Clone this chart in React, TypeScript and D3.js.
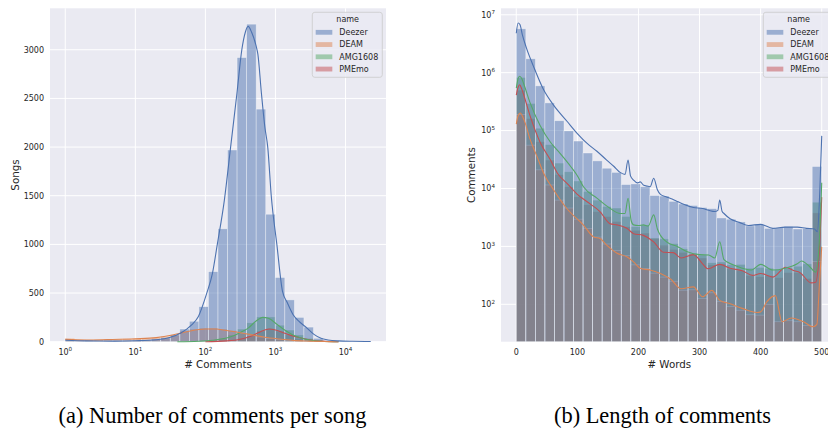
import React, { useEffect, useRef } from 'react';
import * as d3 from 'd3';

const seriesNames = ['Deezer', 'DEAM', 'AMG1608', 'PMEmo'];
const seriesColors = ['#4c72b0', '#dd8452', '#55a868', '#c44e52'];

// (a) songs per bin of log10(# comments), 32 bins over [10^0, 10^4.36]
const commentLogExtent = [0, 4.36];
const songsDeezer = [15, 6, 5, 5, 7, 9, 11, 14, 18, 28, 40, 70, 130, 210, 360, 720, 1160, 1970, 2920, 3263, 2390, 1310, 660, 430, 250, 150, 35, 12, 6, 4, 2, 2];
const songsDEAM = [35, 18, 20, 22, 25, 27, 30, 32, 35, 42, 55, 75, 110, 130, 140, 140, 130, 115, 90, 65, 48, 32, 22, 14, 8, 5, 3, 1, 0, 0, 0, 0];
const songsAMG = [0, 0, 0, 0, 0, 0, 0, 0, 0, 0, 0, 0, 1, 3, 6, 15, 35, 70, 130, 195, 255, 255, 170, 120, 70, 35, 15, 5, 2, 0, 0, 0];
const songsPMEmo = [0, 0, 0, 0, 0, 0, 0, 0, 0, 0, 0, 0, 0, 0, 1, 3, 8, 20, 40, 70, 110, 135, 110, 70, 35, 15, 5, 2, 0, 0, 0, 0];

// kde curves, [log10 comments, songs]
const kdeSongsDeezer = [[0, 15], [0.3, 8], [0.7, 6], [1.0, 10], [1.3, 20], [1.5, 45], [1.65, 90], [1.8, 170], [1.9, 260], [2.02, 500], [2.1, 700], [2.17, 1000], [2.27, 1450], [2.36, 2000], [2.45, 2550], [2.52, 3000], [2.57, 3180], [2.61, 3240], [2.66, 3180], [2.72, 3050], [2.75, 2950], [2.8, 2550], [2.85, 2200], [2.89, 2000], [2.94, 1500], [3.02, 1000], [3.1, 520], [3.17, 400], [3.25, 280], [3.35, 200], [3.45, 140], [3.55, 75], [3.65, 35], [3.75, 18], [3.9, 8], [4.1, 4], [4.36, 2]];
const kdeSongsDEAM = [[0, 24], [0.3, 18], [0.6, 22], [1.0, 30], [1.3, 42], [1.53, 68], [1.75, 105], [2.0, 130], [2.15, 130], [2.3, 115], [2.5, 92], [2.68, 68], [2.85, 45], [3.06, 27], [3.25, 14], [3.44, 7], [3.7, 2], [3.9, 0]];
const kdeSongsAMG = [[1.6, 0], [1.9, 5], [2.1, 15], [2.36, 50], [2.5, 95], [2.62, 145], [2.72, 210], [2.82, 250], [2.9, 240], [3.02, 180], [3.12, 125], [3.25, 70], [3.37, 38], [3.49, 17], [3.65, 5], [3.9, 0]];
const kdeSongsPMEmo = [[2.0, 0], [2.3, 8], [2.5, 25], [2.65, 55], [2.78, 100], [2.91, 130], [3.0, 120], [3.1, 95], [3.2, 70], [3.35, 40], [3.5, 18], [3.7, 5], [3.9, 0]];

// (b) comments per bin of # words, 32 bins over [0, 500]
const wordExtent = [0, 500];
const commentsDeezer = [5730000, 1740000, 593000, 301000, 148000, 99000, 66000, 41000, 30000, 22400, 19000, 11700, 12000, 10700, 7550, 7400, 6000, 5400, 5100, 4700, 4500, 3100, 2950, 2650, 2260, 2400, 2050, 2100, 2200, 2000, 2050, 24000];
const commentsDEAM = [190000, 56000, 21000, 11500, 6300, 4600, 2950, 2050, 1450, 1100, 850, 690, 480, 415, 345, 295, 250, 175, 178, 126, 158, 112, 91, 79, 66, 65, 100, 50, 52, 50, 43, 550];
const commentsAMG = [830000, 295000, 110000, 57500, 27500, 19500, 13500, 8900, 6300, 4900, 4600, 3300, 2200, 2350, 1400, 1350, 1120, 910, 760, 710, 525, 540, 480, 490, 420, 435, 420, 400, 435, 455, 500, 5800];
const commentsPMEmo = [500000, 162000, 64500, 31000, 17400, 10700, 7200, 5250, 4000, 3300, 2700, 2200, 1900, 1700, 1380, 1050, 890, 790, 720, 630, 480, 500, 415, 380, 316, 300, 316, 290, 355, 355, 280, 3800];

// kde curves, [# words, comments]
const kdeWordsDeezer = [[0, 4.8e6], [3, 7.2e6], [6, 6.8e6], [10, 4.5e6], [17, 2.6e6], [28, 1.3e6], [45, 5.0e5], [61, 2.75e5], [83, 1.45e5], [100, 8.9e4], [116, 6.0e4], [132, 4.4e4], [148, 3.1e4], [160, 2.4e4], [170, 1.9e4], [178, 1.75e4], [183, 3.1e4], [187, 1.65e4], [192, 1.4e4], [198, 1.25e4], [203, 1.3e4], [208, 1.15e4], [214, 1.1e4], [219, 1.07e4], [225, 1.5e4], [231, 9500], [236, 7900], [245, 7200], [255, 6600], [265, 5900], [275, 5300], [290, 4700], [305, 4500], [315, 4200], [325, 4000], [330, 4200], [333, 6300], [337, 4000], [340, 3700], [350, 3000], [365, 2600], [380, 2300], [400, 2400], [420, 2050], [440, 2150], [460, 2150], [475, 2050], [488, 2000], [493, 1800], [497, 1.0e4], [500, 8.1e4]];
const kdeWordsDEAM = [[0, 1.29e5], [3, 1.8e5], [6.5, 2.0e5], [13, 1.5e5], [23, 6.9e4], [34, 3.55e4], [45, 1.82e4], [61, 9500], [83, 4470], [110, 2340], [127, 1450], [137, 1370], [148, 1050], [165, 760], [181, 660], [192, 540], [203, 420], [219, 390], [236, 340], [253, 270], [270, 186], [290, 200], [305, 135], [320, 174], [333, 117], [350, 102], [370, 85], [394, 72], [400, 74], [410, 110], [424, 141], [435, 50], [450, 58], [470, 50], [486, 41], [492, 45], [496, 200], [500, 980]];
const kdeWordsAMG = [[0, 5.4e5], [3, 7.9e5], [5.5, 8.7e5], [9, 7.9e5], [12, 6.5e5], [23, 2.95e5], [39, 1.23e5], [56, 6.3e4], [72, 4.0e4], [89, 2.4e4], [100, 1.66e4], [110, 1.07e4], [132, 6800], [154, 4500], [170, 3700], [178, 3700], [183, 6800], [188, 2800], [192, 2350], [200, 2300], [208, 2350], [216, 2250], [225, 3500], [231, 2000], [236, 1550], [246, 1200], [265, 980], [280, 810], [300, 720], [315, 710], [325, 630], [333, 1200], [340, 590], [355, 480], [370, 420], [385, 390], [400, 490], [420, 390], [440, 420], [460, 500], [467, 560], [480, 450], [490, 360], [495, 800], [500, 1.26e4]];
const kdeWordsPMEmo = [[0, 4.1e5], [3, 5.6e5], [5.5, 6.2e5], [9, 5.2e5], [12, 4.2e5], [23, 1.74e5], [39, 6.3e4], [56, 3.1e4], [68, 1.8e4], [83, 1.23e4], [99, 8100], [116, 5900], [137, 4000], [154, 2450], [165, 2350], [181, 2050], [192, 1660], [208, 1550], [225, 1200], [241, 790], [257, 780], [270, 630], [290, 720], [305, 500], [314, 410], [333, 490], [350, 420], [370, 380], [387, 316], [400, 340], [420, 295], [441, 436], [455, 380], [464, 355], [483, 234], [490, 240], [496, 800], [500, 7100]];

const commentTicks = [1, 10, 100, 1000, 10000];
const songTicks = [0, 500, 1000, 1500, 2000, 2500, 3000];
const wordTicks = [0, 100, 200, 300, 400, 500];
const countTicks = [1e2, 1e3, 1e4, 1e5, 1e6, 1e7];

const FONT = 'DejaVu Sans, sans-serif';
const INK = '#262626';

const powLabel = (t, v) => {
  t.append('tspan').text('10');
  t.append('tspan').attr('dy', -3.6).attr('font-size', 5.6).text(Math.round(Math.log10(v)));
};

function drawPanel(svg, p) {
  const { x, y, left, right, top, bottom, edges, bars, kdes, xTicks, yTicks, xLog, yLog, xLabel, yLabel, yLabelX, legendX, caption, captionX } = p;
  const g = svg.append('g');

  g.append('rect').attr('x', left).attr('y', top).attr('width', right - left).attr('height', bottom - top).attr('fill', '#eaeaf2');

  g.selectAll('.vgrid').data(xTicks).join('line')
    .attr('x1', (d) => x(d)).attr('x2', (d) => x(d)).attr('y1', top).attr('y2', bottom)
    .attr('stroke', '#fff').attr('stroke-width', 1);
  g.selectAll('.hgrid').data(yTicks).join('line')
    .attr('x1', left).attr('x2', right).attr('y1', (d) => y(d)).attr('y2', (d) => y(d))
    .attr('stroke', '#fff').attr('stroke-width', 1);

  // first hue level ends up on top, as seaborn layers them
  [3, 2, 1, 0].forEach((k) => {
    const rows = bars[k].map((v, i) => ({ v, i })).filter((d) => d.v > 0);
    g.append('g').selectAll('rect').data(rows).join('rect')
      .attr('x', (d) => x(edges[d.i]))
      .attr('width', (d) => x(edges[d.i + 1]) - x(edges[d.i]))
      .attr('y', (d) => y(d.v))
      .attr('height', (d) => bottom - y(d.v))
      .attr('fill', seriesColors[k]).attr('fill-opacity', 0.5)
      .attr('stroke', '#fff').attr('stroke-opacity', 0.5).attr('stroke-width', 0.7);
  });

  [3, 2, 1, 0].forEach((k) => {
    const line = d3.line().x((d) => x(d[0])).y((d) => y(d[1])).curve(d3.curveMonotoneX);
    g.append('path').attr('d', line(kdes[k])).attr('fill', 'none')
      .attr('stroke', seriesColors[k]).attr('stroke-width', 1.1);
  });

  // x tick labels
  g.selectAll('.xt').data(xTicks).join('text')
    .attr('x', (d) => x(d)).attr('y', 355).attr('text-anchor', 'middle')
    .attr('font-family', FONT).attr('font-size', 8).attr('fill', INK)
    .each(function (d) {
      const t = d3.select(this);
      if (xLog) powLabel(t, d); else t.text(d);
    });
  g.selectAll('.yt').data(yTicks).join('text')
    .attr('x', left - 6).attr('y', (d) => y(d) + 2.9).attr('text-anchor', 'end')
    .attr('font-family', FONT).attr('font-size', 8).attr('fill', INK)
    .each(function (d) {
      const t = d3.select(this);
      if (yLog) powLabel(t, d); else t.text(d);
    });

  g.append('text').attr('x', (left + Math.min(right, 828 + 9)) / 2 - (xLog ? 0 : 0)).attr('y', 368)
    .attr('text-anchor', 'middle').attr('font-family', FONT).attr('font-size', 10.3).attr('fill', INK)
    .attr('x', p.xLabelX).text(xLabel);
  g.append('text').attr('transform', `translate(${yLabelX},${(top + bottom) / 2}) rotate(-90)`)
    .attr('text-anchor', 'middle').attr('dy', '0.35em').attr('font-family', FONT).attr('font-size', 10.3).attr('fill', INK)
    .text(yLabel);

  // legend
  const lg = g.append('g').attr('transform', `translate(${legendX},12.3)`);
  lg.append('rect').attr('width', 70).attr('height', 65).attr('rx', 2.5)
    .attr('fill', '#eaeaf2').attr('fill-opacity', 0.8).attr('stroke', '#cccccc').attr('stroke-width', 0.8);
  lg.append('text').attr('x', 35.4).attr('y', 9.8).attr('text-anchor', 'middle')
    .attr('font-family', FONT).attr('font-size', 8).attr('fill', INK).text('name');
  seriesNames.forEach((name, k) => {
    const cy = 20 + 12.25 * k;
    lg.append('rect').attr('x', 3.4).attr('y', cy - 2.4).attr('width', 16.6).attr('height', 4.8)
      .attr('fill', seriesColors[k]).attr('fill-opacity', 0.5);
    lg.append('text').attr('x', 27).attr('y', cy + 2.9)
      .attr('font-family', FONT).attr('font-size', 8).attr('fill', INK).text(name);
  });

  svg.append('text').attr('x', captionX).attr('y', 423.3).attr('text-anchor', 'middle')
    .attr('font-family', 'Liberation Serif, Times New Roman, serif').attr('font-size', 22.4).attr('fill', '#000')
    .text(caption);
}

export default function App() {
  const ref = useRef(null);

  useEffect(() => {
    const svg = d3.select(ref.current);
    svg.selectAll('*').remove();
    svg.append('rect').attr('width', 828).attr('height', 432).attr('fill', '#fff');

    const [la, lb] = commentLogExtent;
    const edgesA = d3.range(33).map((i) => 10 ** (la + (i * (lb - la)) / 32));
    const xa = d3.scaleLog().domain([10 ** -0.218, 10 ** 4.578]).range([50, 386]);
    const ya = d3.scaleLinear().domain([0, 3426]).range([341.7, 8.3]);
    const toCount = (arr) => arr.map((d) => [10 ** d[0], d[1]]);
    drawPanel(svg, {
      x: xa, y: ya, left: 50, right: 386, top: 8.3, bottom: 341.7,
      edges: edgesA,
      bars: [songsDeezer, songsDEAM, songsAMG, songsPMEmo],
      kdes: [kdeSongsDeezer, kdeSongsDEAM, kdeSongsAMG, kdeSongsPMEmo].map(toCount),
      xTicks: commentTicks, yTicks: songTicks, xLog: true, yLog: false,
      xLabel: '# Comments', xLabelX: 218, yLabel: 'Songs', yLabelX: 15,
      legendX: 312.3, caption: '(a) Number of comments per song', captionX: 212.5,
    });

    const [wa, wb] = wordExtent;
    const edgesB = d3.range(33).map((i) => wa + (i * (wb - wa)) / 32);
    const xb = d3.scaleLinear().domain([-25, 525]).range([501, 837]);
    const yb = d3.scaleLog().domain([10 ** 1.354, 10 ** 7.112]).range([341.7, 8.3]).clamp(true);
    drawPanel(svg, {
      x: xb, y: yb, left: 501, right: 837, top: 8.3, bottom: 341.7,
      edges: edgesB,
      bars: [commentsDeezer, commentsDEAM, commentsAMG, commentsPMEmo],
      kdes: [kdeWordsDeezer, kdeWordsDEAM, kdeWordsAMG, kdeWordsPMEmo],
      xTicks: wordTicks, yTicks: countTicks, xLog: false, yLog: true,
      xLabel: '# Words', xLabelX: 669.3, yLabel: 'Comments', yLabelX: 471.7,
      legendX: 763.3, caption: '(b) Length of comments', captionX: 662.5,
    });
  }, []);

  return (
    <svg ref={ref} width={828} height={432}
      style={{ position: 'absolute', left: 0, top: 0, overflow: 'hidden' }} />
  );
}
